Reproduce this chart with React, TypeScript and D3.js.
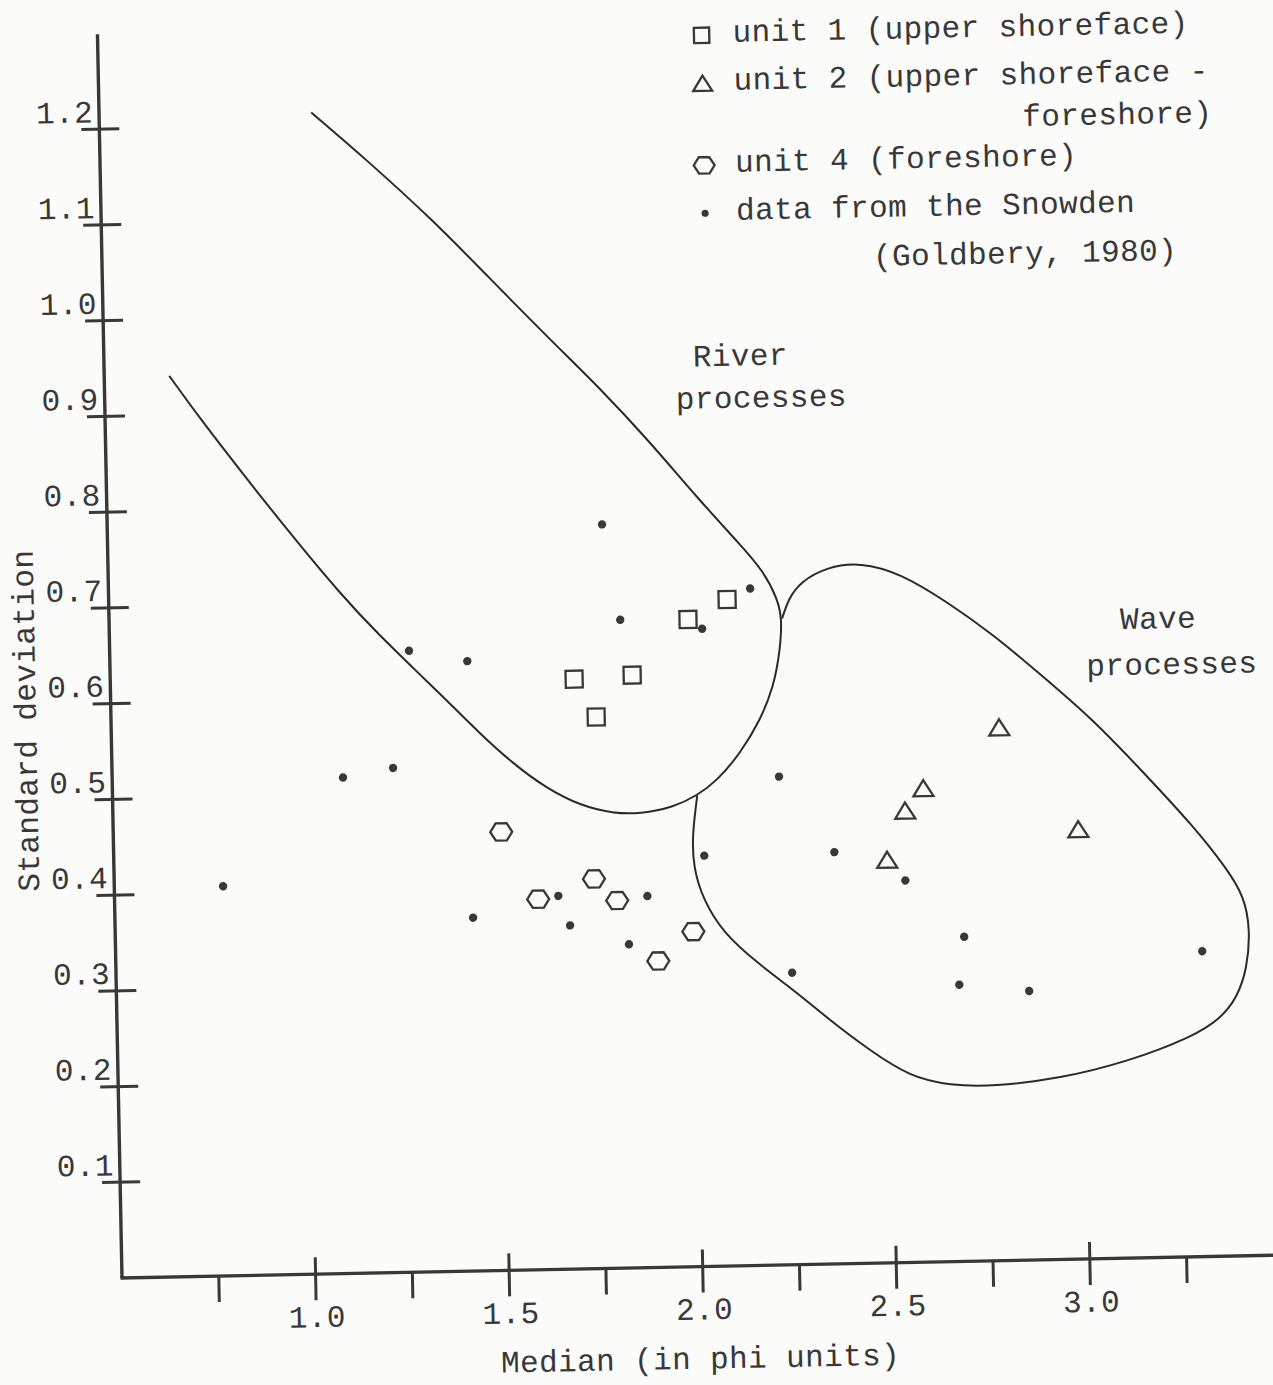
import React from "react";
import * as d3 from "d3";

// ---- data ----
const xTickMajor = [1.0, 1.5, 2.0, 2.5, 3.0];
const xTickMinor = [0.75, 1.25, 1.75, 2.25, 2.75, 3.25];
const yTicks = [0.1, 0.2, 0.3, 0.4, 0.5, 0.6, 0.7, 0.8, 0.9, 1.0, 1.1, 1.2];

// unit 1 (upper shoreface) - squares  [median, sd]
const unit1: [number, number][] = [
  [1.698, 0.616], [1.753, 0.576], [1.848, 0.619], [1.995, 0.676], [2.097, 0.696],
];
// unit 2 (upper shoreface - foreshore) - triangles
const unit2: [number, number][] = [
  [2.793, 0.557], [2.594, 0.495], [2.546, 0.472], [2.497, 0.421], [2.992, 0.449],
];
// unit 4 (foreshore) - hexagons
const unit4: [number, number][] = [
  [1.502, 0.458], [1.594, 0.387], [1.739, 0.407], [1.798, 0.384], [1.901, 0.32], [1.993, 0.35],
];
// data from the Snowden (Goldbery, 1980) - dots
const snowden: [number, number][] = [
  [1.778, 0.777], [2.157, 0.707], [1.82, 0.677], [2.031, 0.666], [1.273, 0.649],
  [1.423, 0.637], [1.096, 0.518], [1.226, 0.527], [0.781, 0.407], [1.425, 0.369],
  [1.646, 0.39], [1.675, 0.359], [1.826, 0.338], [1.876, 0.388], [2.025, 0.429],
  [2.222, 0.51], [2.361, 0.43], [2.543, 0.399], [2.246, 0.305], [2.692, 0.339],
  [2.677, 0.289], [2.857, 0.281], [3.306, 0.319],
];

// "River processes" boundary (open hairpin curve)
const riverBoundary: [number, number][] = [
  [0.668, 0.941], [0.745, 0.896], [0.846, 0.841], [0.972, 0.774], [1.098, 0.71],
  [1.199, 0.665], [1.283, 0.631], [1.369, 0.596], [1.452, 0.561], [1.536, 0.529],
  [1.623, 0.502], [1.707, 0.484], [1.792, 0.475], [1.862, 0.474], [1.947, 0.48],
  [2.01, 0.492], [2.062, 0.507], [2.123, 0.535], [2.176, 0.569], [2.212, 0.603],
  [2.231, 0.641], [2.238, 0.675], [2.227, 0.696], [2.192, 0.725], [2.134, 0.753],
  [2.033, 0.799], [1.906, 0.862], [1.78, 0.919], [1.653, 0.971], [1.494, 1.039],
  [1.357, 1.098], [1.19, 1.162], [1.048, 1.213],
];

// "Wave processes" boundary (joins the river curve at both ends)
const waveBoundary: [number, number][] = [
  [2.238, 0.675], [2.255, 0.695], [2.287, 0.713], [2.357, 0.728], [2.443, 0.732],
  [2.545, 0.72], [2.665, 0.689], [2.782, 0.654], [2.909, 0.609], [3.036, 0.563],
  [3.163, 0.507], [3.289, 0.45], [3.375, 0.404], [3.417, 0.375], [3.431, 0.341],
  [3.421, 0.3], [3.394, 0.27], [3.349, 0.248], [3.278, 0.23], [3.107, 0.205],
  [2.933, 0.189], [2.759, 0.182], [2.648, 0.184], [2.545, 0.194], [2.443, 0.222],
  [2.334, 0.257], [2.258, 0.284], [2.156, 0.316], [2.07, 0.348], [2.02, 0.383],
  [1.996, 0.417], [1.995, 0.451], [2.01, 0.492],
];

const legendItems = [
  { shape: "square", lines: ["unit 1 (upper shoreface)"] },
  { shape: "triangle", lines: ["unit 2 (upper shoreface -", "foreshore)"] },
  { shape: "hexagon", lines: ["unit 4 (foreshore)"] },
  { shape: "dot", lines: ["data from the Snowden", "(Goldbery, 1980)"] },
];

const regionLabels = [
  { text: "River", at: [2.021, 0.94] as [number, number] },
  { text: "processes", at: [1.975, 0.896] as [number, number] },
  { text: "Wave", at: [3.111, 0.657] as [number, number] },
  { text: "processes", at: [3.021, 0.609] as [number, number] },
];

const xTitle = "Median (in phi units)";
const yTitle = "Standard deviation";

// ---- layout ----
const W = 1273;
const H = 1385;
const OX = 122;
const OY = 1278;
const INK = "#383838";
const FONT = "'Liberation Mono', 'DejaVu Sans Mono', monospace";
const FS = 31;

const x = d3.scaleLinear().domain([0.5, 3.5]).range([OX, OX + 3 * 387.2]);
const y = d3.scaleLinear().domain([0, 1.3]).range([OY, OY - 1.3 * 957.5]);

function hexPath(r: number) {
  const pts = d3.range(6).map((i) => {
    const a = (Math.PI / 3) * i;
    return [r * Math.cos(a), r * Math.sin(a) * 0.9];
  });
  return "M" + pts.map((p) => p.join(",")).join("L") + "Z";
}

function Marker({ shape, cx, cy, s = 1 }: { shape: string; cx: number; cy: number; s?: number }) {
  const common = { fill: "none", stroke: INK, strokeWidth: 2.3 };
  if (shape === "square") {
    const h = 8.5 * s;
    return <rect x={cx - h} y={cy - h} width={2 * h} height={2 * h} {...common} />;
  }
  if (shape === "triangle") {
    const w = 10 * s, hh = 8 * s;
    return (
      <path
        d={`M${cx},${cy - hh}L${cx + w},${cy + hh}L${cx - w},${cy + hh}Z`}
        {...common}
        strokeLinejoin="miter"
      />
    );
  }
  if (shape === "hexagon") {
    return <path d={hexPath(11 * s)} transform={`translate(${cx},${cy})`} {...common} />;
  }
  return <circle cx={cx} cy={cy} r={4.2 * s} fill={INK} />;
}

export default function App() {
  const line = d3
    .line<[number, number]>()
    .x((d) => x(d[0]))
    .y((d) => y(d[1]))
    .curve(d3.curveBasis);

  const textStyle = {
    fontFamily: FONT,
    fontSize: FS,
    fill: INK,
    letterSpacing: 0.4,
  } as React.CSSProperties;

  // legend rows: first-line baseline, continuation lines with their own anchor
  const legendRows = [
    { first: 54, second: null as null | { y: number; x: number; anchor: string } },
    { first: 102, second: { y: 144, x: 1235, anchor: "end" } },
    { first: 184, second: null },
    { first: 232, second: { y: 281, x: 893, anchor: "start" } },
  ];

  return (
    <svg
      width={W}
      height={H}
      viewBox={`0 0 ${W} ${H}`}
      style={{ position: "absolute", left: 0, top: 0, display: "block", background: "#fbfbfa" }}
    >
      <rect x={0} y={0} width={W} height={H} fill="#fbfbfa" />
      <g transform={`rotate(-1.13 ${OX} ${OY})`}>
        {/* axes */}
        <line x1={OX} y1={OY} x2={OX} y2={34} stroke={INK} strokeWidth={3.4} />
        <line x1={OX - 1.5} y1={OY} x2={W + 40} y2={OY} stroke={INK} strokeWidth={3.4} />

        {/* y ticks */}
        {yTicks.map((t) => (
          <g key={"y" + t}>
            <line x1={OX - 18} x2={OX + 20} y1={y(t)} y2={y(t)} stroke={INK} strokeWidth={3} />
            <text x={OX - 6} y={y(t) - 7} textAnchor="end" style={textStyle}>
              {d3.format(".1f")(t)}
            </text>
          </g>
        ))}

        {/* x ticks */}
        {xTickMajor.map((t) => (
          <g key={"xm" + t}>
            <line x1={x(t)} x2={x(t)} y1={OY - 17} y2={OY + 26} stroke={INK} strokeWidth={3} />
            <text x={x(t) + 1} y={OY + 53} textAnchor="middle" style={textStyle}>
              {d3.format(".1f")(t)}
            </text>
          </g>
        ))}
        {xTickMinor.map((t) => (
          <line key={"xn" + t} x1={x(t)} x2={x(t)} y1={OY} y2={OY + 26} stroke={INK} strokeWidth={3} />
        ))}

        {/* axis titles */}
        <text x={x(1.99)} y={OY + 102} textAnchor="middle" style={textStyle}>
          {xTitle}
        </text>
        <text
          transform={`translate(47, ${(OY + 160) / 2}) rotate(-90)`}
          textAnchor="middle"
          style={textStyle}
        >
          {yTitle}
        </text>

        {/* boundaries */}
        <path d={line(riverBoundary) || ""} fill="none" stroke="#2a2a2a" strokeWidth={2} />
        <path d={line(waveBoundary) || ""} fill="none" stroke="#2a2a2a" strokeWidth={2} />

        {/* region labels */}
        {regionLabels.map((r, i) => (
          <text key={"r" + i} x={x(r.at[0])} y={y(r.at[1])} style={textStyle}>
            {r.text}
          </text>
        ))}

        {/* data */}
        {snowden.map((d, i) => (
          <Marker key={"s" + i} shape="dot" cx={x(d[0])} cy={y(d[1])} />
        ))}
        {unit1.map((d, i) => (
          <Marker key={"u1" + i} shape="square" cx={x(d[0])} cy={y(d[1])} />
        ))}
        {unit2.map((d, i) => (
          <Marker key={"u2" + i} shape="triangle" cx={x(d[0])} cy={y(d[1])} />
        ))}
        {unit4.map((d, i) => (
          <Marker key={"u4" + i} shape="hexagon" cx={x(d[0])} cy={y(d[1])} />
        ))}

        {/* legend */}
        {legendItems.map((item, i) => {
          const row = legendRows[i];
          const b0 = row.first;
          return (
            <g key={"l" + i}>
              <Marker
                shape={item.shape}
                cx={726}
                cy={b0 - 7}
                s={item.shape === "square" ? 0.9 : item.shape === "dot" ? 0.85 : 0.95}
              />
              <text x={757} y={b0} style={textStyle}>
                {item.lines[0]}
              </text>
              {row.second && item.lines[1] ? (
                <text
                  x={row.second.x}
                  y={row.second.y}
                  textAnchor={row.second.anchor as any}
                  style={textStyle}
                >
                  {item.lines[1]}
                </text>
              ) : null}
            </g>
          );
        })}
      </g>
    </svg>
  );
}
